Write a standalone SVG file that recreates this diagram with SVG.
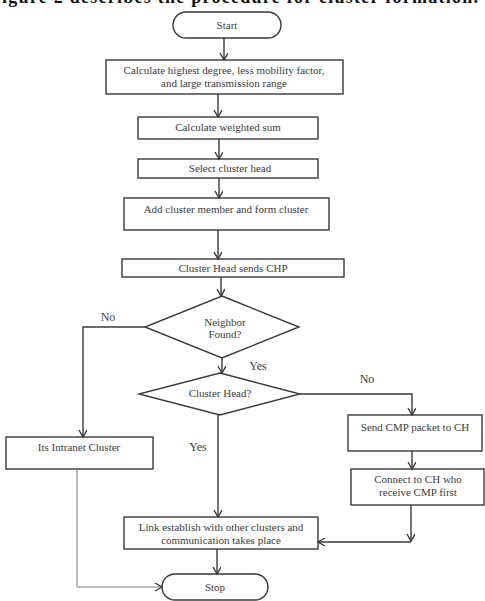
<svg xmlns="http://www.w3.org/2000/svg" width="485" height="601" viewBox="0 0 485 601">
<style>
.s{fill:#fff;stroke:#3a3a3a;stroke-width:1.4}
.t{font-family:"Liberation Serif",serif;font-size:11px;fill:#3c3c3c;text-anchor:middle}
.l{font-family:"Liberation Serif",serif;font-size:12px;fill:#3c3c3c;text-anchor:middle}
.c{fill:none;stroke:#3a3a3a;stroke-width:1.4}
.g{fill:none;stroke:#777;stroke-width:1}
</style>
<defs>
<marker id="a" markerWidth="10" markerHeight="10" refX="8" refY="4" orient="auto" markerUnits="userSpaceOnUse">
<path d="M1,0 L8,4 L1,8" fill="none" stroke="#3a3a3a" stroke-width="1.4"/>
</marker>
</defs>
<text x="2" y="3" font-family="Liberation Serif,serif" font-weight="bold" font-size="18" fill="#111" textLength="476">igure 2 describes the procedure for cluster formation.</text>
<g id="start"><rect class="s" x="173" y="12" width="108" height="26" rx="13"/><text class="t" x="227" y="29">Start</text></g>
<g id="calc"><rect class="s" x="106" y="60" width="237" height="34"/><text class="t" x="224" y="74">Calculate highest degree, less mobility factor,</text><text class="t" x="224" y="87">and large transmission range</text></g>
<g id="wsum"><rect class="s" x="138" y="117" width="180" height="22"/><text class="t" x="228" y="131">Calculate weighted sum</text></g>
<g id="sel"><rect class="s" x="138" y="159" width="180" height="19"/><text class="t" x="230" y="172">Select cluster head</text></g>
<g id="add"><rect class="s" x="124" y="198" width="205" height="32"/><text class="t" x="226" y="213">Add cluster member and form cluster</text></g>
<g id="chp"><rect class="s" x="122" y="259" width="222" height="18"/><text class="t" x="233" y="272">Cluster Head sends CHP</text></g>
<g id="nb"><polygon class="s" points="222,296 299,327 222,358 145,327"/><text class="t" x="225" y="326">Neighbor</text><text class="t" x="225" y="338">Found?</text></g>
<g id="ch"><polygon class="s" points="220,373 300,394 220,415 139,394"/><text class="t" x="220" y="397">Cluster Head?</text></g>
<g id="intra"><rect class="s" x="6" y="437" width="147" height="32"/><text class="t" x="79" y="451">Its Intranet Cluster</text></g>
<g id="cmp"><rect class="s" x="348" y="415" width="134" height="36"/><text class="t" x="415" y="431">Send CMP packet to CH</text></g>
<g id="conn"><rect class="s" x="351" y="469" width="133" height="36"/><text class="t" x="418" y="483">Connect to CH who</text><text class="t" x="418" y="496">receive CMP first</text></g>
<g id="link"><rect class="s" x="124" y="517" width="194" height="32"/><text class="t" x="221" y="531">Link establish with other clusters and</text><text class="t" x="221" y="544">communication takes place</text></g>
<g id="stop"><rect class="s" x="162" y="574" width="106" height="26" rx="13"/><text class="t" x="215" y="591">Stop</text></g>
<g id="connectors">
<line class="c" x1="224" y1="38" x2="224" y2="60" marker-end="url(#a)"/>
<line class="c" x1="218" y1="94" x2="218" y2="117" marker-end="url(#a)"/>
<line class="c" x1="219" y1="139" x2="219" y2="159" marker-end="url(#a)"/>
<line class="c" x1="219" y1="178" x2="219" y2="198" marker-end="url(#a)"/>
<line class="c" x1="218" y1="230" x2="218" y2="259" marker-end="url(#a)"/>
<line class="c" x1="221" y1="277" x2="221" y2="296" marker-end="url(#a)"/>
<polyline class="c" points="145,327 83,327 83,437" marker-end="url(#a)"/>
<line class="c" x1="222" y1="358" x2="222" y2="373" marker-end="url(#a)"/>
<polyline class="c" points="300,394 412,394 412,415" marker-end="url(#a)"/>
<line class="c" x1="218" y1="415" x2="218" y2="517" marker-end="url(#a)"/>
<line class="c" x1="412" y1="451" x2="412" y2="469" marker-end="url(#a)"/>
<line class="c" x1="411" y1="505" x2="411" y2="541" marker-end="url(#a)"/>
<line class="c" x1="411" y1="542" x2="318" y2="542" marker-end="url(#a)"/>
<line class="c" x1="217" y1="549" x2="217" y2="574" marker-end="url(#a)"/>
<polyline class="g" points="77,469 77,587 162,587" marker-end="url(#a)"/>
<text class="l" x="108" y="321">No</text>
<text class="l" x="258" y="370">Yes</text>
<text class="l" x="367" y="383">No</text>
<text class="l" x="198" y="451">Yes</text>
</g>
</svg>
